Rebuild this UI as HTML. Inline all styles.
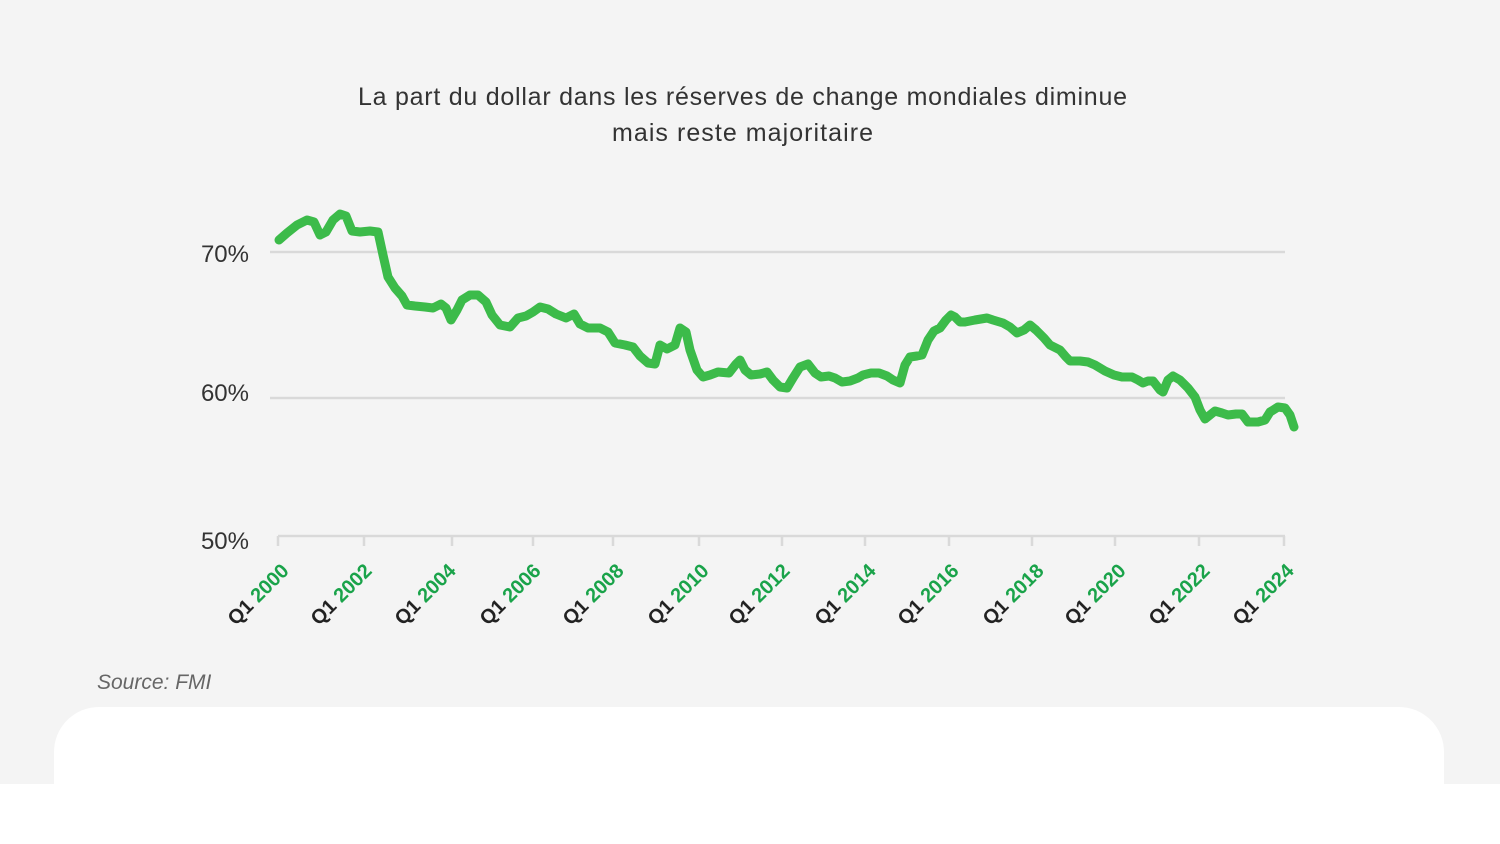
<!DOCTYPE html>
<html><head><meta charset="utf-8"><style>
html,body{margin:0;padding:0;width:1500px;height:844px;overflow:hidden;background:#fff;font-family:"Liberation Sans",sans-serif;}
</style></head><body>
<svg width="1500" height="844" xmlns="http://www.w3.org/2000/svg">
<rect x="0" y="0" width="1500" height="784" fill="#f4f4f4"/>
<path d="M54,784 V752 A45,45 0 0 1 99,707 H1399 A45,45 0 0 1 1444,752 V784 Z" fill="#fff"/>
<text x="358" y="105" textLength="769" font-size="25" fill="#333">La part du dollar dans les réserves de change mondiales diminue</text>
<text x="612" y="141" textLength="261" font-size="25" fill="#333">mais reste majoritaire</text>
<g stroke="#d9d9d9" stroke-width="2.5">
<line x1="270" y1="252" x2="1285" y2="252"/>
<line x1="270" y1="398" x2="1285" y2="398"/>
<line x1="278" y1="536" x2="1285" y2="536"/>
<line x1="278" y1="536" x2="278" y2="546"/><line x1="364" y1="536" x2="364" y2="546"/><line x1="452" y1="536" x2="452" y2="546"/><line x1="533" y1="536" x2="533" y2="546"/><line x1="613" y1="536" x2="613" y2="546"/><line x1="699" y1="536" x2="699" y2="546"/><line x1="782" y1="536" x2="782" y2="546"/><line x1="865" y1="536" x2="865" y2="546"/><line x1="949" y1="536" x2="949" y2="546"/><line x1="1032" y1="536" x2="1032" y2="546"/><line x1="1115" y1="536" x2="1115" y2="546"/><line x1="1199" y1="536" x2="1199" y2="546"/><line x1="1284" y1="536" x2="1284" y2="546"/>
</g>
<g font-size="24" fill="#333" text-anchor="end">
<text x="249" y="262">70%</text><text x="249" y="401">60%</text><text x="249" y="549">50%</text>
</g>
<g font-size="20" font-weight="bold" text-anchor="end">
<text transform="translate(290,572) rotate(-45)"><tspan fill="#222">Q1 </tspan><tspan fill="#1aa34a">2000</tspan></text>
<text transform="translate(373,572) rotate(-45)"><tspan fill="#222">Q1 </tspan><tspan fill="#1aa34a">2002</tspan></text>
<text transform="translate(457,572) rotate(-45)"><tspan fill="#222">Q1 </tspan><tspan fill="#1aa34a">2004</tspan></text>
<text transform="translate(542,572) rotate(-45)"><tspan fill="#222">Q1 </tspan><tspan fill="#1aa34a">2006</tspan></text>
<text transform="translate(625,572) rotate(-45)"><tspan fill="#222">Q1 </tspan><tspan fill="#1aa34a">2008</tspan></text>
<text transform="translate(710,572) rotate(-45)"><tspan fill="#222">Q1 </tspan><tspan fill="#1aa34a">2010</tspan></text>
<text transform="translate(791,572) rotate(-45)"><tspan fill="#222">Q1 </tspan><tspan fill="#1aa34a">2012</tspan></text>
<text transform="translate(877,572) rotate(-45)"><tspan fill="#222">Q1 </tspan><tspan fill="#1aa34a">2014</tspan></text>
<text transform="translate(960,572) rotate(-45)"><tspan fill="#222">Q1 </tspan><tspan fill="#1aa34a">2016</tspan></text>
<text transform="translate(1045,572) rotate(-45)"><tspan fill="#222">Q1 </tspan><tspan fill="#1aa34a">2018</tspan></text>
<text transform="translate(1127,572) rotate(-45)"><tspan fill="#222">Q1 </tspan><tspan fill="#1aa34a">2020</tspan></text>
<text transform="translate(1211,572) rotate(-45)"><tspan fill="#222">Q1 </tspan><tspan fill="#1aa34a">2022</tspan></text>
<text transform="translate(1295,572) rotate(-45)"><tspan fill="#222">Q1 </tspan><tspan fill="#1aa34a">2024</tspan></text>
</g>
<polyline fill="none" stroke="#3cbb4a" stroke-width="9" stroke-linejoin="round" stroke-linecap="round" points="279,240 287,233 297,225 307,220 314,222 320,235 326,232 333,220 340,214 346,216 352,231 360,232 370,231 378,232 383,255 388,277 395,288 402,296 407,305 415,306 425,307 433,308 441,304 446,308 451,320 457,310 462,300 470,295 478,295 486,302 492,315 500,325 510,327 518,318 526,316 533,312 540,307 548,309 556,314 566,318 574,314 580,324 588,328 600,328 608,332 615,343 625,345 633,347 640,356 648,363 655,364 660,345 667,349 675,345 680,328 686,332 690,350 697,370 703,377 710,375 718,372 729,373 736,364 740,360 745,370 751,375 760,374 767,372 773,380 780,387 787,388 793,378 800,367 808,364 815,373 821,377 829,376 835,378 842,382 850,381 858,378 863,375 871,373 879,373 887,376 893,380 900,383 905,365 910,357 917,356 922,355 928,340 934,331 940,328 946,320 951,315 955,317 960,322 965,322 975,320 987,318 993,320 1003,323 1010,327 1017,333 1024,330 1030,325 1036,330 1044,338 1050,345 1060,350 1066,357 1070,361 1080,361 1088,362 1095,365 1105,371 1114,375 1122,377 1132,377 1138,380 1143,383 1148,381 1153,381 1160,390 1163,392 1168,380 1173,376 1180,380 1188,388 1195,397 1200,410 1205,419 1210,415 1215,411 1222,413 1228,415 1236,414 1242,414 1248,422 1258,422 1265,420 1270,412 1278,407 1285,408 1290,415 1294,427"/>
<text x="97" y="689" font-size="21" font-style="italic" fill="#666">Source: FMI</text>
</svg>
</body></html>
